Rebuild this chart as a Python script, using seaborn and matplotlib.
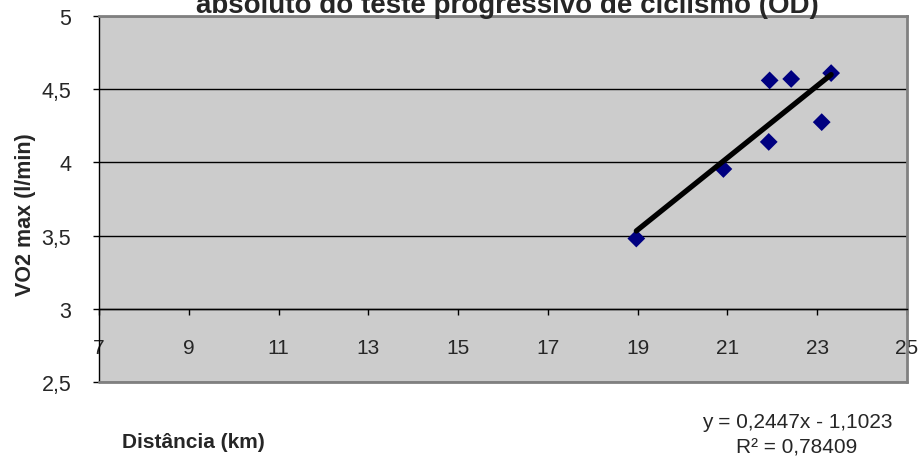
import matplotlib
matplotlib.use("Agg")
import matplotlib.pyplot as plt
import seaborn as sns
import pandas as pd
from matplotlib.ticker import FuncFormatter

# distance (km) vs VO2 max (l/min)
distancia = [18.97, 20.91, 21.92, 21.94, 22.42, 23.10, 23.31]
vo2max = [3.48, 3.955, 4.14, 4.56, 4.57, 4.275, 4.61]
x_ticks = [7, 9, 11, 13, 15, 17, 19, 21, 23, 25]
y_ticks = [2.5, 3, 3.5, 4, 4.5, 5]
titulo = "absoluto do teste progressivo de ciclismo (OD)"
equacao = "y = 0,2447x - 1,1023"
r2 = "R² = 0,78409"

df = pd.DataFrame({"dist": distancia, "vo2": vo2max})

sns.set_style("white")
plt.rcParams["font.family"] = ["Liberation Sans", "DejaVu Sans"]

fig = plt.figure(figsize=(9.21, 4.60), dpi=100)
ax = fig.add_axes([99 / 921, 1 - 383 / 460, 808 / 921, 366 / 460])
ax.set_facecolor("#CCCCCC")

sns.scatterplot(data=df, x="dist", y="vo2", marker="D", s=82, color="#000080",
                edgecolor="none", ax=ax, zorder=3)
sns.regplot(data=df, x="dist", y="vo2", ci=None, scatter=False, truncate=True,
            line_kws={"color": "black", "lw": 3.8, "solid_capstyle": "round", "zorder": 4},
            ax=ax)

ax.set_xlim(7, 25)
ax.set_ylim(2.5, 5)
ax.set_xticks(x_ticks)
ax.set_yticks(y_ticks)
ax.yaxis.set_major_formatter(FuncFormatter(lambda v, p: f"{v:g}".replace(".", ",")))
ax.set_xlabel("")
ax.set_ylabel("")

ax.yaxis.grid(True, color="black", lw=1)
ax.set_axisbelow(True)

ax.spines["bottom"].set_position(("data", 3))
ax.spines["bottom"].set_color("black")
ax.spines["bottom"].set_linewidth(1)
ax.spines["left"].set_color("black")
ax.spines["left"].set_linewidth(1)
for s in ["top", "right"]:
    ax.spines[s].set_color("#808080")
    ax.spines[s].set_linewidth(2)
ax.axhline(2.5, color="#808080", lw=2, clip_on=False, zorder=2.6)

ax.tick_params(axis="x", direction="out", length=4, width=1, color="black",
               bottom=True, labelsize=15, pad=17)
ax.tick_params(axis="y", direction="out", length=4, width=1, color="black",
               left=True, labelsize=15.5, pad=16)

fig.text(507 / 921, 1 - 13 / 460, titulo, ha="center", va="baseline",
         fontsize=20, fontweight="bold")
fig.text(122 / 921, 1 - 443 / 460, "Distância (km)", ha="left", va="center",
         fontsize=15, fontweight="bold")
fig.text(25 / 921, 1 - 215 / 460, "VO2 max (l/min)", ha="center", va="center",
         rotation=90, fontsize=15.5, fontweight="bold")
fig.text(797 / 921, 1 - 423 / 460, equacao, ha="center", va="center", fontsize=15)
fig.text(797 / 921, 1 - 448 / 460, r2, ha="center", va="center", fontsize=15)

fig.savefig("out.png", dpi=100)
